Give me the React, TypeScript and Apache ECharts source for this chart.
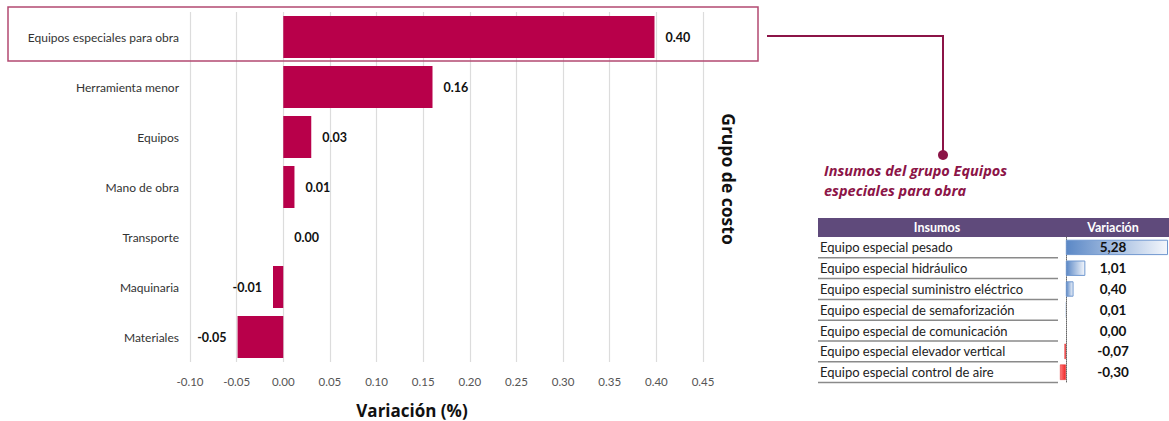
import React, { useEffect, useRef } from "react";
import * as echarts from "echarts";

const groupNames = [
  "Equipos especiales para obra",
  "Herramienta menor",
  "Equipos",
  "Mano de obra",
  "Transporte",
  "Maquinaria",
  "Materiales",
];
const groupValues = [0.398, 0.16, 0.03, 0.012, 0.0, -0.011, -0.049];
const xTicks = { min: -0.1, max: 0.45, interval: 0.05 };

const inputNames = [
  "Equipo especial pesado",
  "Equipo especial hidráulico",
  "Equipo especial suministro eléctrico",
  "Equipo especial de semaforización",
  "Equipo especial de comunicación",
  "Equipo especial elevador vertical",
  "Equipo especial control de aire",
];
const inputValues = [5.28, 1.01, 0.4, 0.01, 0.0, -0.07, -0.3];

const MAROON = "#8c1447";
const BAR = "#b8004a";
const FONT = "Lato";
const HFONT = "'Open Sans'";

// table layout
const T_LEFT = 818;
const T_RIGHT = 1169;
const HEAD_TOP = 218;
const HEAD_H = 19;
const ROW_TOP = HEAD_TOP + HEAD_H;
const ROW_H = 20.8;
const NAME_COL_RIGHT = 1058;
const BAR_LEFT = 1060;
const BAR_RIGHT = 1168;

export default function App() {
  const ref = useRef<HTMLDivElement>(null);

  useEffect(() => {
    if (!ref.current) return;
    const chart = echarts.init(ref.current, null, { renderer: "svg" });

    const rowLines = inputNames.map((_, i) => ({
      type: "line",
      shape: {
        x1: T_LEFT,
        y1: ROW_TOP + ROW_H * (i + 1),
        x2: NAME_COL_RIGHT,
        y2: ROW_TOP + ROW_H * (i + 1),
      },
      style: { stroke: "#8a8a8a", lineWidth: 1.5 },
      silent: true,
    }));

    const option: any = {
      animation: false,
      textStyle: { fontFamily: FONT },
      grid: [
        { left: 190, top: 12, width: 513, height: 350, containLabel: false },
        {
          left: BAR_LEFT,
          top: ROW_TOP,
          width: BAR_RIGHT - BAR_LEFT,
          height: ROW_H * inputNames.length,
          containLabel: false,
        },
      ],
      xAxis: [
        {
          type: "value",
          gridIndex: 0,
          min: xTicks.min,
          max: xTicks.max,
          interval: xTicks.interval,
          axisLine: { show: false },
          axisTick: { show: false },
          axisLabel: {
            color: "#555",
            fontSize: 11.5,
            fontFamily: FONT,
            margin: 13,
            formatter: (v: number) => v.toFixed(2),
          },
          splitLine: { show: true, lineStyle: { color: "#dcdcdc", width: 1.2 } },
        },
        {
          type: "value",
          gridIndex: 1,
          min: -0.3,
          max: 5.28,
          show: false,
          splitLine: { show: false },
        },
      ],
      yAxis: [
        {
          type: "category",
          gridIndex: 0,
          data: groupNames,
          inverse: true,
          axisLine: { show: false },
          axisTick: { show: false },
          axisLabel: { color: "#333", fontSize: 12, fontFamily: FONT, margin: 11 },
        },
        {
          type: "category",
          gridIndex: 1,
          data: inputNames,
          inverse: true,
          position: "left",
          axisLine: {
            show: true,
            onZero: true,
            lineStyle: { color: "#666", width: 1, type: "dotted" },
          },
          axisTick: { show: false },
          axisLabel: {
            align: "left",
            margin: BAR_LEFT - 820,
            color: "#222",
            fontSize: 13,
            fontFamily: FONT,
          },
        },
        {
          type: "category",
          gridIndex: 1,
          data: inputValues.map((v) => v.toFixed(2).replace(".", ",")),
          inverse: true,
          position: "right",
          z: 10,
          axisLine: { show: false },
          axisTick: { show: false },
          axisLabel: {
            align: "center",
            margin: -(BAR_RIGHT - 1113),
            color: "#111",
            fontSize: 13.5,
            fontWeight: "bold",
            fontFamily: FONT,
          },
        },
      ],
      series: [
        {
          type: "bar",
          xAxisIndex: 0,
          yAxisIndex: 0,
          barCategoryGap: "16%",
          data: groupValues.map((v) => ({
            value: v,
            label: { position: v < 0 ? "left" : "right" },
          })),
          itemStyle: { color: BAR },
          label: {
            show: true,
            distance: 11,
            color: "#111",
            fontWeight: "bold",
            fontSize: 12.5,
            fontFamily: FONT,
            formatter: (p: any) => Number(p.value).toFixed(2),
          },
        },
        {
          type: "bar",
          xAxisIndex: 1,
          yAxisIndex: 1,
          z: 1,
          barCategoryGap: "26%",
          data: inputValues.map((v) => ({
            value: v,
            itemStyle:
              v >= 0
                ? {
                    color: new echarts.graphic.LinearGradient(0, 0, 1, 0, [
                      { offset: 0, color: "#5b88c6" },
                      { offset: 1, color: "#f4f7fc" },
                    ]),
                    borderColor: "#6f97cf",
                    borderWidth: Math.abs(v) < 0.05 ? 0 : 1,
                  }
                : {
                    color: new echarts.graphic.LinearGradient(0, 0, 1, 0, [
                      { offset: 0, color: "#ff7a7a" },
                      { offset: 1, color: "#f02828" },
                    ]),
                    borderColor: "#e02020",
                    borderWidth: 0.5,
                  },
          })),
        },
      ],
      graphic: [
        {
          type: "rect",
          shape: { x: 8, y: 7, width: 750, height: 54 },
          style: { fill: "none", stroke: "#b34a72", lineWidth: 1.5 },
          silent: true,
          z: 10,
        },
        {
          type: "text",
          x: 729,
          y: 179,
          rotation: -Math.PI / 2,
          style: {
            text: "Grupo de costo",
            fill: "#111",
            font: `bold 17.5px ${HFONT}`,
            align: "center",
            verticalAlign: "middle",
          },
        },
        {
          type: "text",
          x: 412,
          y: 410,
          style: {
            text: "Variación (%)",
            fill: "#111",
            font: `bold 17px ${HFONT}`,
            align: "center",
            verticalAlign: "middle",
          },
        },
        {
          type: "polyline",
          shape: { points: [[767, 36], [943, 36], [943, 155]] },
          style: { stroke: MAROON, lineWidth: 2, fill: "none" },
          silent: true,
        },
        {
          type: "circle",
          shape: { cx: 943, cy: 155, r: 5 },
          style: { fill: MAROON },
          silent: true,
        },
        {
          type: "text",
          x: 824,
          y: 170,
          style: {
            text: "Insumos del grupo Equipos",
            fill: MAROON,
            font: `italic bold 14.5px ${HFONT}`,
            align: "left",
            verticalAlign: "middle",
          },
        },
        {
          type: "text",
          x: 824,
          y: 190,
          style: {
            text: "especiales para obra",
            fill: MAROON,
            font: `italic bold 14.5px ${HFONT}`,
            align: "left",
            verticalAlign: "middle",
          },
        },
        {
          type: "rect",
          shape: { x: T_LEFT, y: HEAD_TOP, width: T_RIGHT - T_LEFT, height: HEAD_H },
          style: { fill: "#5f4a7b" },
          silent: true,
        },
        {
          type: "text",
          x: 937,
          y: HEAD_TOP + HEAD_H / 2,
          style: {
            text: "Insumos",
            fill: "#fff",
            font: `bold 12.5px ${FONT}`,
            align: "center",
            verticalAlign: "middle",
          },
        },
        {
          type: "text",
          x: 1113,
          y: HEAD_TOP + HEAD_H / 2,
          style: {
            text: "Variación",
            fill: "#fff",
            font: `bold 12.5px ${FONT}`,
            align: "center",
            verticalAlign: "middle",
          },
        },
        ...rowLines,
      ],
    };

    chart.setOption(option);
    return () => chart.dispose();
  }, []);

  return (
    <div
      ref={ref}
      style={{ position: "absolute", left: 0, top: 0, width: 1169, height: 421 }}
    />
  );
}
